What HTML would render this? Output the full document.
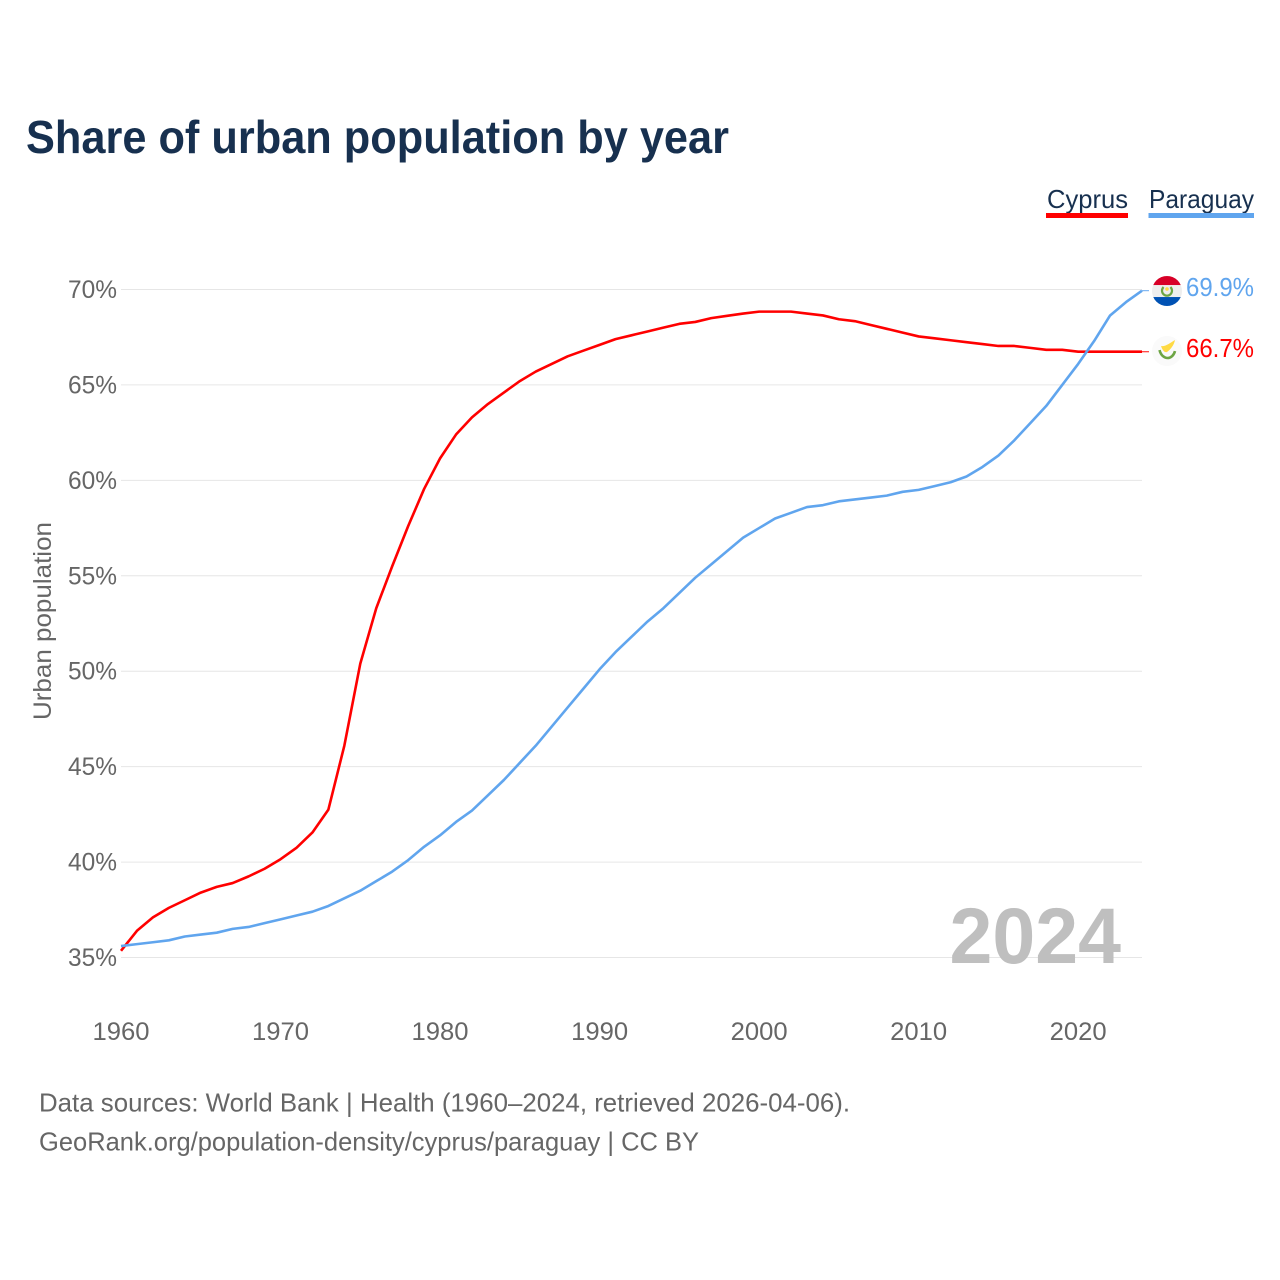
<!DOCTYPE html>
<html lang="en">
<head>
<meta charset="utf-8">
<title>Share of urban population by year</title>
<style>
html,body{margin:0;padding:0;background:#fff;width:1280px;height:1280px;overflow:hidden}
svg{display:block}
text{font-family:"Liberation Sans",sans-serif}
</style>
</head>
<body>
<svg id="chart" xmlns="http://www.w3.org/2000/svg" width="1280" height="1280" viewBox="0 0 1280 1280">
  <defs>
    <clipPath id="flag-clip-py"><circle cx="0" cy="0" r="15"/></clipPath>
    <clipPath id="flag-clip-cy"><circle cx="0" cy="0" r="15"/></clipPath>
  </defs>
  <rect width="1280" height="1280" fill="#fff"/>
  <text x="26" y="153" font-size="46" font-weight="700" fill="#17304f" textLength="703" lengthAdjust="spacingAndGlyphs">Share of urban population by year</text>

  <text x="1047" y="208" font-size="26" fill="#17304f" textLength="81" lengthAdjust="spacingAndGlyphs">Cyprus</text>
  <rect x="1046" y="213" width="82" height="5" fill="#ff0000"/>
  <text x="1149" y="208" font-size="26" fill="#17304f" textLength="105" lengthAdjust="spacingAndGlyphs">Paraguay</text>
  <rect x="1148.5" y="213" width="105.5" height="5" fill="#60a5ee"/>

  <g id="grid"></g>
  <g id="yticks"></g>
  <g id="xticks"></g>

  <text transform="translate(51,720) rotate(-90)" font-size="25" fill="#666666" textLength="198" lengthAdjust="spacingAndGlyphs">Urban population</text>

  <text x="949.5" y="963" font-size="79" font-weight="700" fill="#bfbfbf" textLength="171.5" lengthAdjust="spacingAndGlyphs">2024</text>

  <g id="series"></g>

  <g id="flag-py">
    <g clip-path="url(#flag-clip-py)">
      <rect x="-15" y="-15" width="30" height="30" fill="#eeeeee"/>
      <rect x="-15" y="-15" width="30" height="9" fill="#d80027"/>
      <rect x="-15" y="6" width="30" height="9" fill="#0052b4"/>
    </g>
    <path d="M-3.4,-4 A5,5 0 1 0 3.4,-4" fill="none" stroke="#6da544" stroke-width="2.2"/>
    <circle cx="0" cy="-2" r="1.8" fill="#ffda44"/>
  </g>
  <g id="flag-cy">
    <g clip-path="url(#flag-clip-cy)">
      <rect x="-15" y="-15" width="30" height="30" fill="#fafafa"/>
    </g>
    <path d="M-6,-5 C-2,-4 3,-8 8,-11 C7,-6 4,-2 0,1 C-3,2 -5,-2 -6,-5Z" fill="#ffda44"/>
    <path d="M-7.5,-1 C-6,5 -2,7 0.5,7 C4,7 7,4 8,0" fill="none" stroke="#6da544" stroke-width="2.6"/>
  </g>
  <g id="endlabels"></g>

  <text x="39" y="1111.5" font-size="26" fill="#666666" textLength="811" lengthAdjust="spacingAndGlyphs">Data sources: World Bank | Health (1960–2024, retrieved 2026-04-06).</text>
  <text x="39" y="1150.5" font-size="26" fill="#666666" textLength="660" lengthAdjust="spacingAndGlyphs">GeoRank.org/population-density/cyprus/paraguay | CC BY</text>
</svg>
<script>
const startYear = 1960;
const yTicks = [35, 40, 45, 50, 55, 60, 65, 70];
const xTicks = [1960, 1970, 1980, 1990, 2000, 2010, 2020];
const cyprusValues = [35.35,36.4,37.1,37.6,38.0,38.4,38.7,38.9,39.25,39.65,40.15,40.75,41.55,42.75,46.1,50.4,53.3,55.5,57.6,59.55,61.15,62.4,63.3,64.0,64.6,65.2,65.7,66.1,66.5,66.8,67.1,67.4,67.6,67.8,68.0,68.2,68.3,68.5,68.62,68.74,68.84,68.84,68.84,68.74,68.64,68.44,68.34,68.14,67.94,67.74,67.54,67.44,67.34,67.24,67.14,67.04,67.04,66.94,66.84,66.84,66.74,66.74,66.74,66.74,66.74];
const paraguayValues = [35.6,35.7,35.8,35.9,36.1,36.2,36.3,36.5,36.6,36.8,37.0,37.2,37.4,37.7,38.1,38.5,39.0,39.5,40.1,40.8,41.4,42.1,42.7,43.5,44.3,45.2,46.1,47.1,48.1,49.1,50.1,51.0,51.8,52.6,53.3,54.1,54.9,55.6,56.3,57.0,57.5,58.0,58.3,58.6,58.7,58.9,59.0,59.1,59.2,59.4,59.5,59.7,59.9,60.2,60.7,61.3,62.1,63.0,63.9,65.0,66.1,67.3,68.64,69.34,69.94];

const NS = 'http://www.w3.org/2000/svg';
const xScale = year => 121 + (year - startYear) * 15.953;
const yScale = value => 957.5 - (value - 35) * 19.086;
const RIGHT = xScale(2024);

function make(tag, parentId, attrs, text) {
  const el = document.createElementNS(NS, tag);
  for (const k in attrs) el.setAttribute(k, attrs[k]);
  if (text !== undefined) el.textContent = text;
  document.getElementById(parentId).appendChild(el);
  return el;
}

yTicks.forEach(t => {
  const line = make('line', 'grid', {x1: 121, x2: RIGHT, y1: yScale(t), y2: yScale(t), stroke: '#e6e6e6', 'stroke-width': 1});
  
  
  const label = make('text', 'yticks', {x: 68, y: yScale(t) + 8.5, 'font-size': 25, fill: '#666666', textLength: 49, lengthAdjust: 'spacingAndGlyphs'}, t + '%');
  
  
});

xTicks.forEach(t => {
  const label = make('text', 'xticks', {x: xScale(t) - 28.5, y: 1040, 'font-size': 25, fill: '#666666', textLength: 57, lengthAdjust: 'spacingAndGlyphs'}, String(t));
  
  
});

function drawSeries(values, color) {
  const pts = values.map((v, i) => xScale(startYear + i).toFixed(2) + ',' + yScale(v).toFixed(2)).join(' ');
  return make('polyline', 'series', {points: pts, fill: 'none', stroke: color, 'stroke-width': 2.6, 'stroke-linejoin': 'round'});
}
function drawLeader(values, color) {
  const yEnd = yScale(values[values.length - 1]);
  return make('line', 'series', {x1: RIGHT, x2: RIGHT + 7, y1: yEnd, y2: yEnd, stroke: color, 'stroke-width': 1.2, opacity: 0.8});
}

const cyprusLine = drawSeries(cyprusValues, '#ff0000');


const paraguayLine = drawSeries(paraguayValues, '#60a5ee');


const cyprusLeader = drawLeader(cyprusValues, '#ff0000');


const paraguayLeader = drawLeader(paraguayValues, '#60a5ee');



const pyLast = paraguayValues[paraguayValues.length - 1];
const cyLast = cyprusValues[cyprusValues.length - 1];
const pyY = yScale(pyLast) + 0.4;
const cyY = yScale(cyLast) - 0.7;
document.getElementById('flag-py').setAttribute('transform', 'translate(1167,' + pyY + ')');
document.getElementById('flag-cy').setAttribute('transform', 'translate(1167,' + cyY + ')');

const pyLabel = make('text', 'endlabels', {x: 1186, y: pyY + 5, 'font-size': 26, fill: '#60a5ee', textLength: 68, lengthAdjust: 'spacingAndGlyphs'}, pyLast.toFixed(1) + '%');


const cyLabel = make('text', 'endlabels', {x: 1186, y: cyY + 6, 'font-size': 26, fill: '#ff0000', textLength: 68, lengthAdjust: 'spacingAndGlyphs'}, cyLast.toFixed(1) + '%');


</script>
</body>
</html>
